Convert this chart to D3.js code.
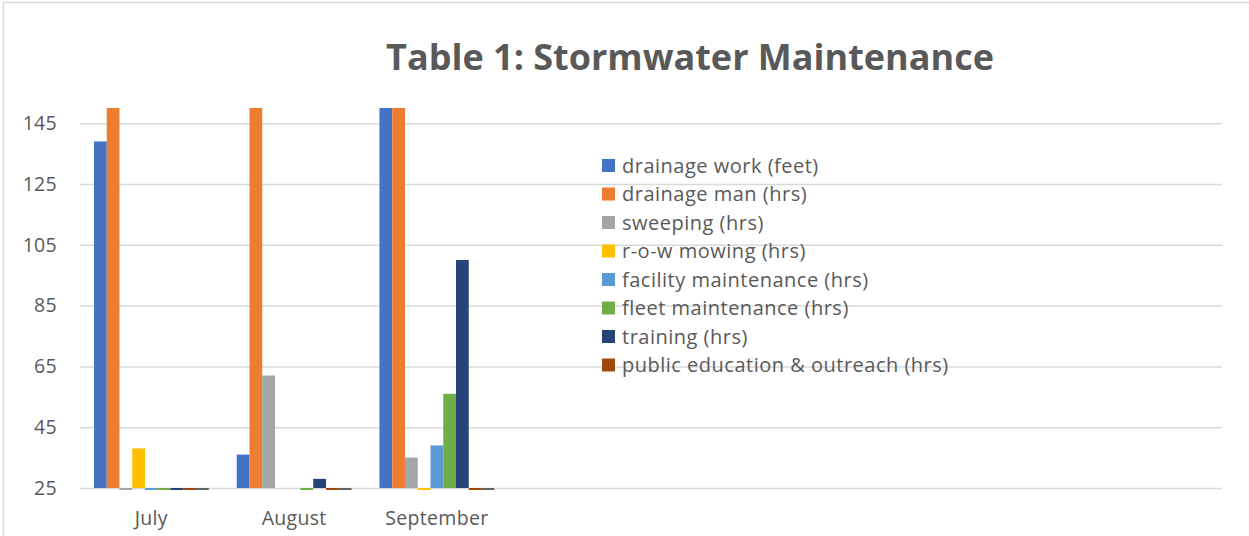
<!DOCTYPE html>
<html>
<head>
<meta charset="utf-8">
<script src="https://cdn.jsdelivr.net/npm/d3@7"></script>
<style>
    body { margin: 0; background: #fff; }
    text { font-family: "Open Sans", sans-serif; fill: #595959; }
</style>
</head>
<body>
<div id="chart"></div>
<script>
// categories (the axis has eight slots, only the first three are used)
const categories = ['July', 'August', 'September', '', '', '', '', ''];

const seriesNames = [
    'drainage work (feet)',
    'drainage man (hrs)',
    'sweeping (hrs)',
    'r-o-w mowing (hrs)',
    'facility maintenance (hrs)',
    'fleet maintenance (hrs)',
    'training (hrs)',
    'public education & outreach (hrs)',
    '' // ninth series, no legend entry
];
const seriesColors = ['#4472c4', '#ed7d31', '#a5a5a5', '#ffc000', '#5b9bd5', '#70ad47', '#264478', '#9e480e', '#636363'];

// values per series: [July, August, September]
const drainageWork = [139, 36, 150];
const drainageMan = [150, 150, 150];
const sweeping = [0, 62, 35];
const rowMowing = [38, null, 0];
const facilityMaint = [0, null, 39];
const fleetMaint = [0, 0, 56];
const training = [0, 28, 100];
const publicEducation = [0, 0, 0];
const other = [0, 0, 0];
const seriesValues = [drainageWork, drainageMan, sweeping, rowMowing, facilityMaint, fleetMaint, training, publicEducation, other];

const yTicks = [25, 45, 65, 85, 105, 125, 145];
const yDomain = [25, 150];

const width = 1249, height = 536;
const margin = { top: 108, right: 27, bottom: 48, left: 80 };

const svg = d3.select('#chart').append('svg')
    .attr('width', width)
    .attr('height', height);

// chart frame
svg.append('rect')
    .attr('x', 3.5).attr('y', 2.5)
    .attr('width', width + 10).attr('height', height + 10)
    .attr('fill', 'none')
    .attr('stroke', '#d9d9d9')
    .attr('stroke-width', 1.5);

const x = d3.scaleBand()
    .domain(d3.range(categories.length))
    .range([margin.left, width - margin.right]);

const gapRatio = 2.19;
const xInner = d3.scaleBand()
    .domain(d3.range(seriesNames.length))
    .range([0, x.bandwidth()])
    .paddingInner(0)
    .paddingOuter(gapRatio / 2);

const y = d3.scaleLinear()
    .domain(yDomain)
    .range([height - margin.bottom, margin.top]);

// gridlines + y labels
const yAxis = d3.axisLeft(y)
    .tickValues(yTicks)
    .tickSize(-(width - margin.left - margin.right))
    .tickPadding(23)
    .tickFormat(d3.format('d'));

const gy = svg.append('g')
    .attr('transform', 'translate(' + margin.left + ',0)')
    .call(yAxis);
gy.select('.domain').remove();
gy.selectAll('line').attr('stroke', '#d9d9d9').attr('stroke-width', 1.5);
gy.selectAll('text')
    .style('font-size', '19.5px')
    .style('letter-spacing', '0.3px')
    .attr('fill', '#595959')
    .attr('font-family', '"Open Sans", sans-serif');

// x labels
const xAxis = d3.axisBottom(x)
    .tickSize(0)
    .tickPadding(23)
    .tickFormat(i => categories[i]);

const gx = svg.append('g')
    .attr('transform', 'translate(0,' + (height - margin.bottom) + ')')
    .call(xAxis);
gx.select('.domain').remove();
gx.selectAll('text')
    .style('font-size', '19.5px')
    .style('letter-spacing', '0.3px')
    .attr('fill', '#595959')
    .attr('font-family', '"Open Sans", sans-serif');

// bars
const baseY = y(yDomain[0]);
const groups = svg.append('g').selectAll('g')
    .data(seriesValues)
    .enter().append('g')
    .attr('fill', (d, i) => seriesColors[i]);

groups.each(function (vals, s) {
    const pts = vals.map((v, c) => ({ v: v, c: c })).filter(d => d.v !== null);
    d3.select(this).selectAll('rect')
        .data(pts)
        .enter().append('rect')
        .attr('x', d => x(d.c) + xInner(s))
        .attr('width', xInner.bandwidth())
        .attr('y', d => d.v > yDomain[0] ? y(Math.min(d.v, yDomain[1])) : baseY)
        .attr('height', d => d.v > yDomain[0] ? baseY - y(Math.min(d.v, yDomain[1])) : 2);
});

// legend
const legendItems = seriesNames.map((n, i) => ({ name: n, color: seriesColors[i] })).filter(d => d.name);
const legend = svg.append('g').attr('transform', 'translate(602,0)');
const ly = d3.scaleLinear().domain([0, 7]).range([165.5, 365]);

const li = legend.selectAll('g')
    .data(legendItems)
    .enter().append('g')
    .attr('transform', (d, i) => 'translate(0,' + ly(i) + ')');
li.append('rect')
    .attr('x', 0).attr('y', -6.5)
    .attr('width', 13).attr('height', 13)
    .attr('fill', d => d.color);
li.append('text')
    .attr('x', 20)
    .attr('dy', '0.35em')
    .style('font-size', '20px')
    .style('letter-spacing', '0.5px')
    .text(d => d.name);

// title
svg.append('text')
    .attr('x', 690)
    .attr('y', 70)
    .attr('text-anchor', 'middle')
    .style('font-size', '36px')
    .style('font-weight', 700)
    .text('Table 1: Stormwater Maintenance');
</script>
</body>
</html>
